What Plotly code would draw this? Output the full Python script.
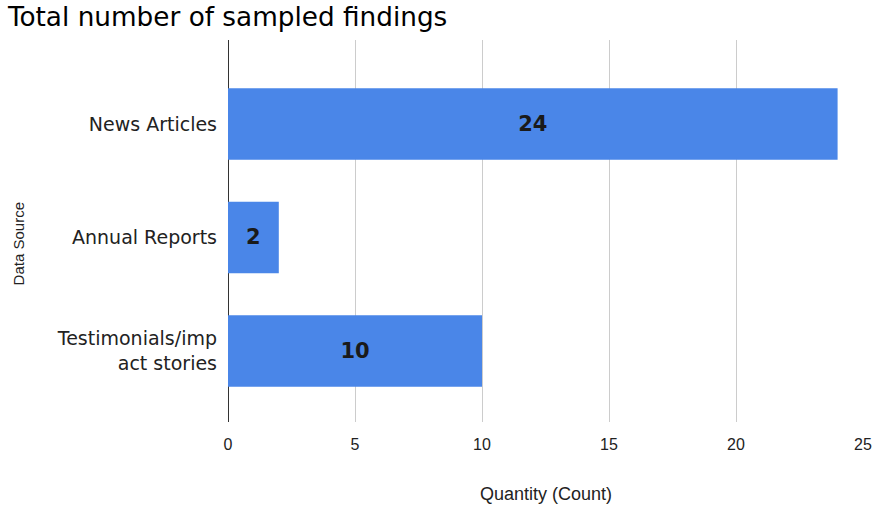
import plotly.graph_objects as go

categories = ["News Articles", "Annual Reports", "Testimonials/imp<br>act stories"]
values = [24, 2, 10]
x_ticks = [0, 5, 10, 15, 20, 25]

SANS = "Liberation Sans"

fig = go.Figure(go.Bar(
    x=values, y=categories, orientation="h",
    marker=dict(color="#4a86e8", line=dict(width=0)),
    width=0.63,
    text=[str(v) for v in values], textposition="inside", insidetextanchor="middle",
    textfont=dict(family="DejaVu Sans", size=21, color="#1a1a1a", weight="bold"),
    textangle=0,
))

fig.update_layout(
    width=875, height=508,
    margin=dict(l=228, r=12, t=40, b=86, autoexpand=False),
    plot_bgcolor="white", paper_bgcolor="white",
    title=dict(text="Total number of sampled findings", x=0.009, xanchor="left", y=0.966, yanchor="middle",
               font=dict(family="DejaVu Sans", size=26.3, color="#000000")),
    showlegend=False,
    annotations=[
        dict(text="Quantity (Count)", xref="paper", yref="paper", x=0.5008, y=-0.188,
             xanchor="center", yanchor="middle", showarrow=False,
             font=dict(family=SANS, size=18, color="#222222")),
        dict(text="Data Source", xref="paper", yref="paper", x=-0.3307, y=0.465,
             xanchor="center", yanchor="middle", showarrow=False, textangle=-90,
             font=dict(family=SANS, size=15, color="#222222")),
    ],
)
fig.update_xaxes(
    range=[0, 25], tickvals=x_ticks, ticktext=[str(t) for t in x_ticks],
    showgrid=True, gridcolor="#cccccc", gridwidth=1,
    zeroline=True, zerolinecolor="#333333", zerolinewidth=1,
    showline=False, ticks="", automargin=False,
    tickfont=dict(family=SANS, size=16, color="#222222"),
    ticklabelstandoff=11,
)
fig.update_yaxes(
    categoryorder="array", categoryarray=categories,
    range=[2.626, -0.74],
    showgrid=False, showline=False, ticks="", automargin=False,
    tickfont=dict(family="DejaVu Sans", size=19, color="#222222"),
    ticklabelstandoff=10,
)

fig.write_html("out.html")
